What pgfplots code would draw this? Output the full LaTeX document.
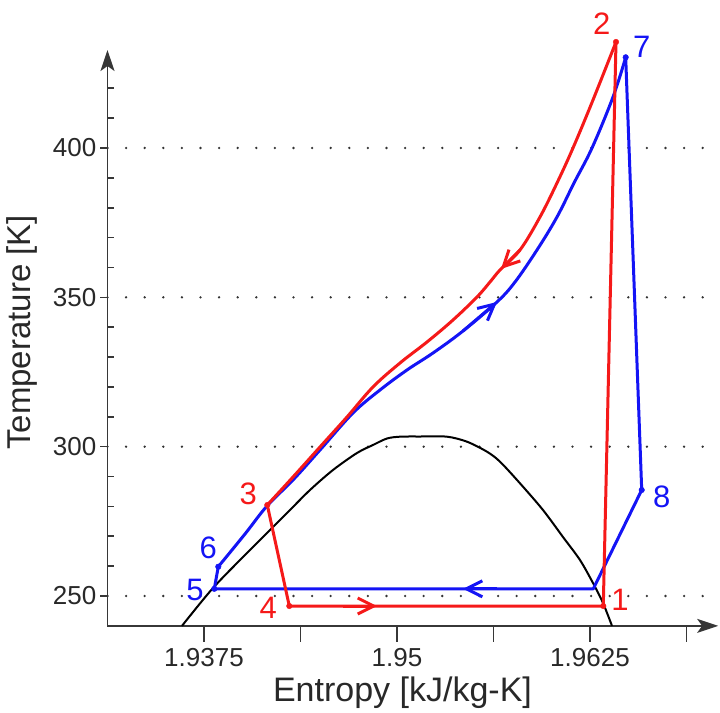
\documentclass[border=0pt]{standalone}
\usepackage{fontspec}
\setmainfont{Liberation Sans}
\usepackage{pgfplots}
\pgfplotsset{compat=1.18}
\usetikzlibrary{arrows.meta}
\definecolor{cycred}{RGB}{245,25,25}
\definecolor{cycblue}{RGB}{20,20,245}
\definecolor{axisgray}{RGB}{55,55,55}
\definecolor{labelgray}{RGB}{40,40,40}

\tikzset{
  flowarrow/.style={-{Straight Barb[length=16bp,width=16bp,line width=3bp]}},
  cycline/.style={line width=3bp, line join=round, line cap=round},
}

\begin{document}
\begin{tikzpicture}
\begin{axis}[
  scale only axis,
  width=610.65bp, height=575.84bp,
  xmin=1.93125, xmax=1.9708,
  ymin=240, ymax=432.8,
  axis lines=left,
  axis line style={line width=1.6bp, draw=axisgray,
    -{Stealth[length=21bp,width=14bp,inset=5bp]}},
  clip=false,
  xtick={1.9375,1.94375,1.95,1.95625,1.9625,1.96875},
  xticklabels={1.9375,,1.95,,1.9625,},
  ytick={250,300,350,400},
  yticklabels={250,300,350,400},
  tick align=outside,
  major tick length=16bp,
  ytick style={/pgfplots/major tick length=7bp},
  tick style={line width=1.6bp, draw=axisgray},
  extra y ticks={260,270,280,290,310,320,330,340,360,370,380,390,410,420},
  extra y tick labels={},
  extra y tick style={tick align=inside, major tick length=7bp, grid=none},
  ticklabel style={font=\fontsize{26bp}{30bp}\selectfont, text=labelgray},
  yticklabel style={inner xsep=2bp, xshift=7bp},
  xticklabel style={inner ysep=6bp},
  ymajorgrids,
  major grid style={draw=black!80, line width=2.6bp, line cap=round,
    dash pattern=on 0bp off 18.6bp},
  xlabel={Entropy [kJ/kg-K]},
  xlabel style={at={(axis description cs:0.4831,-0.1316)}, anchor=base,
    font=\fontsize{34bp}{38bp}\selectfont, text=labelgray},
  ylabel={Temperature [K]},
  ylabel style={at={(axis description cs:-0.1253,0.5095)}, anchor=base,
    font=\fontsize{33bp}{37bp}\selectfont, text=labelgray},
]

% canvas extent
\path (axis cs:1.924288,449.55) rectangle (axis cs:1.970920,212.84);

% saturation dome
\addplot[black, line width=2bp, smooth, tension=0.5] coordinates {
  (1.936075,240.00) (1.938083,252.68) (1.940285,264.40) (1.941969,273.10)
  (1.943070,278.79) (1.944365,285.49) (1.945855,292.19) (1.947409,297.88)
  (1.948446,300.56) (1.949352,302.73) (1.950194,303.34) (1.951490,303.40)
  (1.953238,303.34) (1.954534,301.66) (1.955829,298.31) (1.956671,294.97)
  (1.957966,287.73) (1.959456,278.79) (1.960751,269.75) (1.961852,262.05)
  (1.962694,254.35) (1.963342,247.66) (1.963925,240.00)
};

% cycle 5-6-7-8: compression curve 6-7, then 7-8-5-6
\addplot[cycblue, cycline, smooth, tension=0.6] coordinates {
  (1.938426,259.81) (1.940155,270.76) (1.941580,280.13) (1.943264,288.84)
  (1.945013,298.88) (1.947150,311.27) (1.948899,318.97) (1.950648,325.67)
  (1.952332,331.36) (1.954275,338.73) (1.956477,348.44) (1.957643,355.13)
  (1.959067,365.85) (1.960363,376.90) (1.961464,388.28) (1.962630,400.00)
  (1.963990,417.08) (1.964812,430.37)
};
\addplot[cycblue, cycline] coordinates {
  (1.964812,430.37) (1.965849,285.49) (1.962714,252.40) (1.938167,252.40)
  (1.938426,259.81)
};
\addplot[cycblue, line width=3bp, flowarrow] coordinates {
  (1.954275,338.73) (1.956477,348.44)
};
\addplot[cycblue, line width=3bp, flowarrow] coordinates {
  (1.956500,252.40) (1.954275,252.40)
};
\addplot[cycblue, only marks, mark=*, mark size=2.8bp] coordinates {
  (1.938167,252.40) (1.938426,259.81) (1.964812,430.37) (1.965849,285.49)
};

% cycle 1-2-3-4: curve 2-3, then 3-4-1-2
\addplot[cycred, cycline, smooth, tension=0.6] coordinates {
  (1.964184,435.49) (1.962694,416.07) (1.961399,400.00) (1.960363,388.28)
  (1.959262,376.90) (1.957966,365.85) (1.956671,359.15) (1.956023,355.13)
  (1.955181,350.11) (1.953627,342.41) (1.951943,335.04) (1.950194,328.01)
  (1.948446,319.98) (1.946762,309.93) (1.945013,299.89) (1.943264,289.84)
  (1.941600,280.47)
};
\addplot[cycred, cycline] coordinates {
  (1.941600,280.47) (1.943025,246.65) (1.963361,246.65) (1.964184,435.49)
};
\addplot[cycred, line width=3bp, flowarrow] coordinates {
  (1.957966,365.85) (1.956736,359.49)
};
\addplot[cycred, line width=3bp, flowarrow] coordinates {
  (1.946500,246.65) (1.948705,246.65)
};
\addplot[cycred, only marks, mark=*, mark size=2.8bp] coordinates {
  (1.963361,246.65) (1.964184,435.49) (1.941600,280.47) (1.943025,246.65)
};

% state labels
\begin{scope}[every node/.style={font=\fontsize{31bp}{35bp}\selectfont, inner sep=0pt}]
\node[text=cycred]  at (axis cs:1.963258,441.52) {2};
\node[text=cycblue] at (axis cs:1.965849,433.98) {7};
\node[text=cycred]  at (axis cs:1.940369,284.15) {3};
\node[text=cycblue] at (axis cs:1.937778,265.97) {6};
\node[text=cycblue] at (axis cs:1.936917,252.01) {5};
\node[text=cycred]  at (axis cs:1.941665,245.88) {4};
\node[text=cycred]  at (axis cs:1.964443,248.66) {1};
\node[text=cycblue] at (axis cs:1.967144,283.25) {8};
\end{scope}
\end{axis}
\end{tikzpicture}
\end{document}
